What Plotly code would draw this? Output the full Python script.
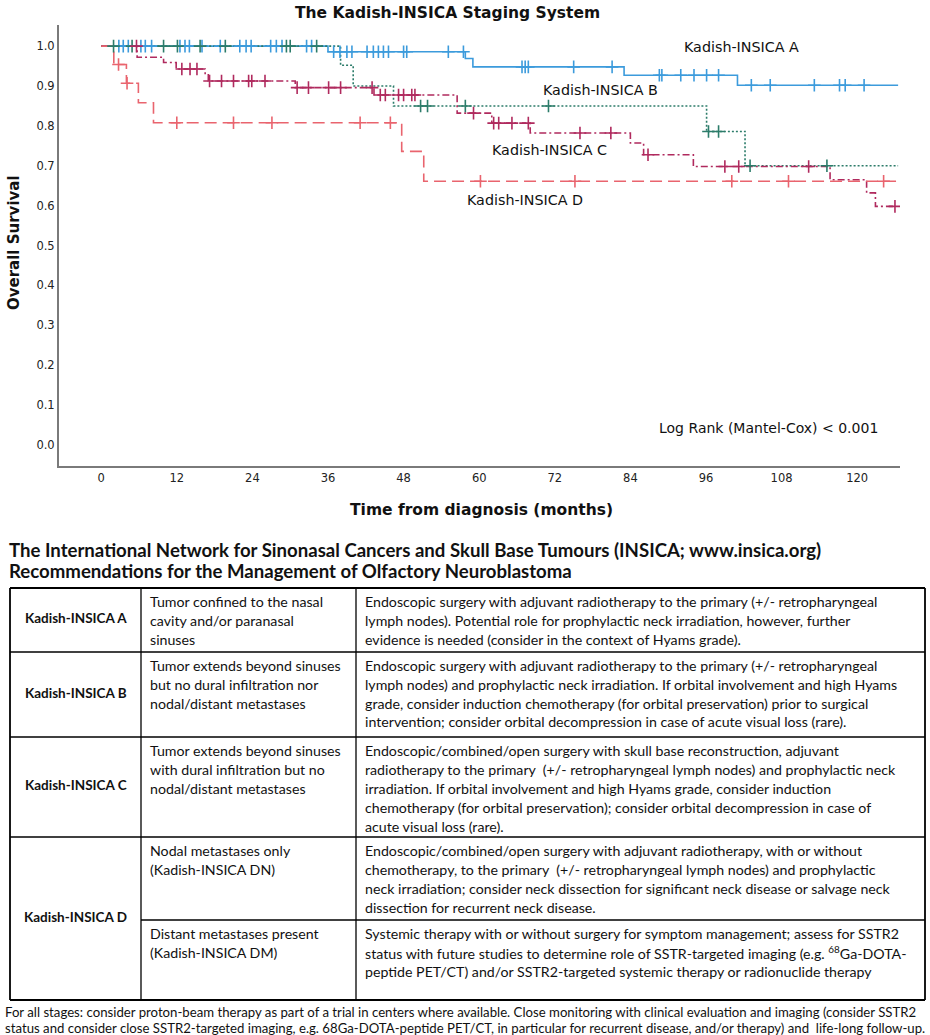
import plotly.graph_objects as go

W, H = 930, 1035

# ---------------- Kaplan-Meier data ----------------
months_A = [0, 36.0, 57.8, 59.0, 83.0, 101.0, 126.5]
surv_A = [1.0, 0.986, 0.969, 0.948, 0.927, 0.902, 0.902]
cens_A = [2.8, 3.5, 4.3, 6.3, 7.0, 8.0, 12.5, 13.3, 14.0, 16.0, 18.9, 22.0, 23.0, 23.8,
          26.9, 27.8, 28.7, 32.6, 33.4,
          36.9, 37.9, 39.0, 39.8, 42.2, 43.2, 44.0, 44.8, 45.6, 48.0, 48.5, 55.1, 57.5,
          66.8, 67.3, 67.8, 75.0, 81.1,
          88.6, 89.0, 92.0, 94.1, 96.1, 98.0,
          103.2, 106.2, 113.2, 117.2, 118.1, 121.1]

months_B = [0, 38.0, 40.0, 46.4, 96.1, 102.2, 126.5]
surv_B = [1.0, 0.952, 0.900, 0.850, 0.786, 0.700, 0.700]
cens_B = [1.96, 4.9, 9.9, 12.1, 15.7, 19.7, 29.4, 30.0, 34.2,
          50.7, 51.8, 57.8, 71.0, 96.4, 98.0, 103.0, 115.2]

months_C = [0, 5.7, 9.9, 11.9, 16.5, 17.0, 30.8, 43.3, 56.5, 62.0, 68.1, 84.0, 86.1,
            94.0, 115.7, 121.5, 122.9, 126.0]
surv_C = [1.0, 0.972, 0.959, 0.9425, 0.928, 0.9125, 0.896, 0.8775, 0.832, 0.807, 0.782,
          0.757, 0.7275, 0.698, 0.665, 0.632, 0.598, 0.598]
cens_C = [5.6, 12.8, 14.1, 15.2, 17.2, 19.1, 21.0, 23.4, 23.9, 26.0,
          31.1, 32.9, 36.1, 38.0, 43.0, 44.3, 45.1, 47.2, 48.0, 49.3, 49.8,
          59.1, 62.3, 63.1, 65.2, 67.8, 76.0, 80.9, 86.8, 99.0, 101.2, 112.3, 126.0]

months_D = [0, 2.0, 4.0, 5.9, 8.3, 47.7, 51.2, 126.3]
surv_D = [1.0, 0.954, 0.907, 0.858, 0.808, 0.736, 0.661, 0.661]
cens_D = [2.75, 4.1, 12.0, 21.0, 27.1, 41.1, 45.9, 60.2, 75.2, 100.1, 109.1, 124.2]

group_names = ["Kadish-INSICA A", "Kadish-INSICA B", "Kadish-INSICA C", "Kadish-INSICA D"]
x_ticks = [0, 12, 24, 36, 48, 60, 72, 84, 96, 108, 120]
y_ticks = [0.0, 0.1, 0.2, 0.3, 0.4, 0.5, 0.6, 0.7, 0.8, 0.9, 1.0]

# ---------------- Table text ----------------
stage_labels = ["Kadish-INSICA A", "Kadish-INSICA B", "Kadish-INSICA C", "Kadish-INSICA D"]
extent_lines = [
    ["Tumor confined to the nasal", "cavity and/or paranasal", "sinuses"],
    ["Tumor extends beyond sinuses", "but no dural infiltration nor", "nodal/distant metastases"],
    ["Tumor extends beyond sinuses", "with dural infiltration but no", "nodal/distant metastases"],
    ["Nodal metastases only", "(Kadish-INSICA DN)"],
    ["Distant metastases present", "(Kadish-INSICA DM)"],
]
rec_lines = [
    ["Endoscopic surgery with adjuvant radiotherapy to the primary (+/- retropharyngeal",
     "lymph nodes). Potential role for prophylactic neck irradiation, however, further",
     "evidence is needed (consider in the context of Hyams grade)."],
    ["Endoscopic surgery with adjuvant radiotherapy to the primary (+/- retropharyngeal",
     "lymph nodes) and prophylactic neck irradiation. If orbital involvement and high Hyams",
     "grade, consider induction chemotherapy (for orbital preservation) prior to surgical",
     "intervention; consider orbital decompression in case of acute visual loss (rare)."],
    ["Endoscopic/combined/open surgery with skull base reconstruction, adjuvant",
     "radiotherapy to the primary  (+/- retropharyngeal lymph nodes) and prophylactic neck",
     "irradiation. If orbital involvement and high Hyams grade, consider induction",
     "chemotherapy (for orbital preservation); consider orbital decompression in case of",
     "acute visual loss (rare)."],
    ["Endoscopic/combined/open surgery with adjuvant radiotherapy, with or without",
     "chemotherapy, to the primary  (+/- retropharyngeal lymph nodes) and prophylactic",
     "neck irradiation; consider neck dissection for significant neck disease or salvage neck",
     "dissection for recurrent neck disease."],
    ["Systemic therapy with or without surgery for symptom management; assess for SSTR2",
     "status with future studies to determine role of SSTR-targeted imaging (e.g. <sup>68</sup>Ga-DOTA-",
     "peptide PET/CT) and/or SSTR2-targeted systemic therapy or radionuclide therapy"],
]
header_lines = [
    "The International Network for Sinonasal Cancers and Skull Base Tumours (INSICA; www.insica.org)",
    "Recommendations for the Management of Olfactory Neuroblastoma",
]
footer_lines = [
    "For all stages: consider proton-beam therapy as part of a trial in centers where available. Close monitoring with clinical evaluation and imaging (consider SSTR2",
    "status and consider close SSTR2-targeted imaging, e.g. 68Ga-DOTA-peptide PET/CT, in particular for recurrent disease, and/or therapy) and  life-long follow-up.",
]

# ---------------- styling ----------------
colors = ["#3C9BDC", "#2C7C6A", "#B02A5E", "#E9646E"]
dashes = ["solid", "2px,2px", "7px,3px,2px,3px", "12px,6px"]
CHART_FONT = "DejaVu Sans"
TABLE_FONT = "Lato"


def px(x):
    return x / W


def py(y):
    return 1 - y / H


def step_value(times, surv, t):
    v = surv[0]
    for ti, si in zip(times, surv):
        if ti <= t:
            v = si
    return v


# plot area in pixels
PL, PR, PT, PB = 59, 900, 25, 466

fig = go.Figure()
series = [(months_A, surv_A, cens_A), (months_B, surv_B, cens_B),
          (months_C, surv_C, cens_C), (months_D, surv_D, cens_D)]
for i, (t, s, c) in enumerate(series):
    fig.add_trace(go.Scatter(x=t, y=s, mode="lines", line_shape="hv",
                             line=dict(color=colors[i], width=1.6, dash=dashes[i]),
                             name=group_names[i], showlegend=False, hoverinfo="skip"))
for i, (t, s, c) in enumerate(series):
    fig.add_trace(go.Scatter(x=c, y=[step_value(t, s, v) for v in c], mode="markers",
                             marker=dict(symbol="cross-thin", size=9,
                                         line=dict(color=colors[i], width=1.6)),
                             showlegend=False, hoverinfo="skip"))

fig.update_layout(
    width=W, height=H, margin=dict(l=0, r=0, t=0, b=0),
    paper_bgcolor="white", plot_bgcolor="white",
    font=dict(family=CHART_FONT, color="#222"),
    xaxis=dict(domain=[px(PL), px(PR)], range=[-6.7, 126.8], tickvals=x_ticks,
               showline=True, linecolor="#7a7a7a", linewidth=2, showgrid=False,
               zeroline=False, ticks="", tickfont=dict(size=11.5, family=CHART_FONT, color="#222")),
    yaxis=dict(domain=[py(PB), py(PT)], range=[-0.053, 1.053], tickvals=y_ticks,
               ticktext=[f"{v:.1f}" for v in y_ticks],
               showline=True, linecolor="#7a7a7a", linewidth=2, showgrid=False,
               zeroline=False, ticks="", tickfont=dict(size=11.5, family=CHART_FONT, color="#222")),
)

ann = []


def add_text(x, y, text, size, bold=False, family=CHART_FONT, xanchor="left", angle=0):
    ann.append(dict(x=px(x), y=py(y), xref="paper", yref="paper", text=f"<b>{text}</b>" if bold else text,
                    showarrow=False, xanchor=xanchor, yanchor="middle", textangle=angle,
                    font=dict(size=size, family=family, color="#111")))


# chart texts
add_text(447, 13, "The Kadish-INSICA Staging System", 15.5, bold=True, xanchor="center")
add_text(14, 243, "Overall Survival", 15, bold=True, xanchor="center", angle=-90)
add_text(481, 510, "Time from diagnosis (months)", 15.5, bold=True, xanchor="center")
label_pos = [(682, 47), (541, 90), (490, 150), (465, 200)]
for name, (lx, ly) in zip(group_names, label_pos):
    add_text(lx, ly, name, 14.3)
add_text(657, 428, "Log Rank (Mantel-Cox) < 0.001", 14)

# table header
add_text(7, 550, header_lines[0], 18.6, bold=True, family=TABLE_FONT)
add_text(7, 571, header_lines[1], 18.6, bold=True, family=TABLE_FONT)

# table geometry
TL, C1, C2, TR = 10, 141, 356, 925
row_y = [588, 652, 737, 837, 920, 1000]   # A top, B top, C top, D top, DM top, bottom
LINE = 19
PAD = 13

shapes = []


def hline(x0, x1, y, w=1.3):
    shapes.append(dict(type="line", xref="paper", yref="paper", x0=px(x0), x1=px(x1),
                       y0=py(y), y1=py(y), line=dict(color="black", width=w)))


def vline(x, y0, y1, w=1.3):
    shapes.append(dict(type="line", xref="paper", yref="paper", x0=px(x), x1=px(x),
                       y0=py(y0), y1=py(y1), line=dict(color="black", width=w)))


hline(TL, TR, row_y[0], 1.8)
hline(TL, TR, row_y[1])
hline(TL, TR, row_y[2])
hline(TL, TR, row_y[3])
hline(C1, TR, row_y[4])
hline(TL, TR, row_y[5], 1.8)
vline(TL, row_y[0], row_y[5], 1.8)
vline(TR, row_y[0], row_y[5], 1.8)
vline(C1, row_y[0], row_y[5])
vline(C2, row_y[0], row_y[5])

# stage labels (vertically centred in their rows)
stage_rows = [(row_y[0], row_y[1]), (row_y[1], row_y[2]), (row_y[2], row_y[3]), (row_y[3], row_y[5])]
for lab, (y0, y1) in zip(stage_labels, stage_rows):
    add_text((TL + C1) / 2, (y0 + y1) / 2 - 2, lab, 13.5, bold=True, family=TABLE_FONT, xanchor="center")

sub_row_tops = [row_y[0], row_y[1], row_y[2], row_y[3], row_y[4]]
for top, ext, rec in zip(sub_row_tops, extent_lines, rec_lines):
    for k, line in enumerate(ext):
        add_text(C1 + 7, top + PAD + k * LINE, line, 14.2, family=TABLE_FONT)
    for k, line in enumerate(rec):
        add_text(C2 + 7, top + PAD + k * LINE, line, 14.2, family=TABLE_FONT)

add_text(3, 1012, footer_lines[0], 13.2, family=TABLE_FONT)
add_text(3, 1028, footer_lines[1], 13.2, family=TABLE_FONT)

fig.update_layout(annotations=ann, shapes=shapes)
fig.write_html("out.html", config={"displayModeBar": False},
               post_script="document.body.style.margin='0px';document.body.style.overflow='hidden';")
